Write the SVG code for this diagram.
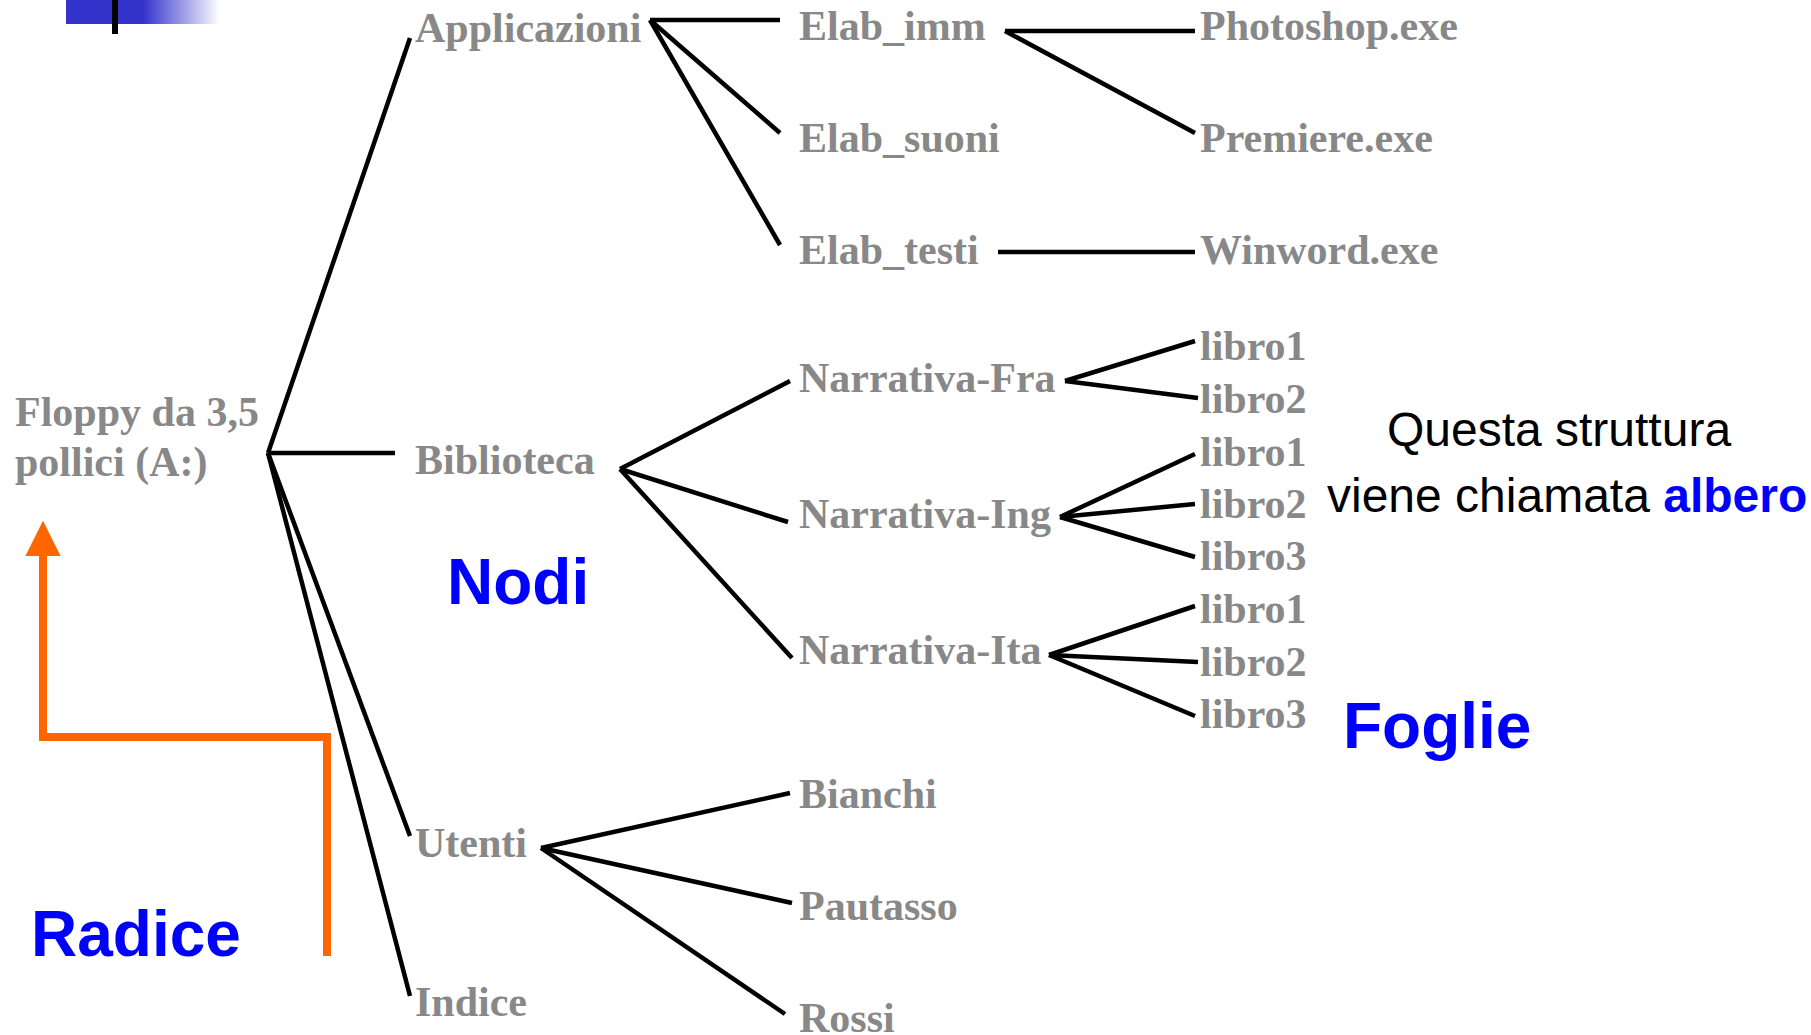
<svg xmlns="http://www.w3.org/2000/svg" width="1811" height="1035" viewBox="0 0 1811 1035">
<defs>
<linearGradient id="bar" x1="0" y1="0" x2="1" y2="0">
<stop offset="0" stop-color="#3333CC"/>
<stop offset="0.5" stop-color="#3333CC"/>
<stop offset="1" stop-color="#3333CC" stop-opacity="0"/>
</linearGradient>
<marker id="oarrow" viewBox="0 0 10 10" refX="0" refY="5" markerWidth="4.4" markerHeight="4.4" markerUnits="strokeWidth" orient="auto">
<path d="M0,0 L10,5 L0,10 z" fill="#FF6600"/>
</marker>
<style>
.n{font-family:"Liberation Serif","Times New Roman",serif;font-weight:bold;font-size:42px;fill:#888888}
.b{font-family:"Liberation Sans",Arial,sans-serif;font-weight:bold;font-size:64px;fill:#0000FF}
.q{font-family:"Liberation Sans",Arial,sans-serif;font-size:48px;fill:#000000}
.e{stroke:#000;stroke-width:4.5;fill:none}
</style>
</defs>
<rect width="1811" height="1035" fill="#FFFFFF"/>
<g id="decor">
<rect x="66" y="0" width="154" height="24" fill="url(#bar)"/>
<rect x="112" y="0" width="6" height="34" fill="#000"/>
</g>
<g id="connectors">
<line class="e" x1="268" y1="453" x2="410" y2="38"/>
<line class="e" x1="268" y1="453" x2="395" y2="453"/>
<line class="e" x1="268" y1="453" x2="410" y2="836"/>
<line class="e" x1="268" y1="453" x2="410" y2="996"/>
<line class="e" x1="650" y1="20" x2="780" y2="20"/>
<line class="e" x1="650" y1="20" x2="780" y2="133"/>
<line class="e" x1="650" y1="20" x2="780" y2="245"/>
<line class="e" x1="1005" y1="31" x2="1195" y2="31"/>
<line class="e" x1="1005" y1="31" x2="1195" y2="133"/>
<line class="e" x1="998" y1="252" x2="1195" y2="252"/>
<line class="e" x1="620" y1="469" x2="790" y2="381"/>
<line class="e" x1="620" y1="469" x2="788" y2="522"/>
<line class="e" x1="620" y1="469" x2="792" y2="658"/>
<line class="e" x1="1065" y1="381" x2="1195" y2="341"/>
<line class="e" x1="1065" y1="381" x2="1198" y2="398"/>
<line class="e" x1="1060" y1="517" x2="1195" y2="454"/>
<line class="e" x1="1060" y1="517" x2="1195" y2="504"/>
<line class="e" x1="1060" y1="517" x2="1195" y2="557"/>
<line class="e" x1="1049" y1="655" x2="1195" y2="606"/>
<line class="e" x1="1049" y1="655" x2="1198" y2="662"/>
<line class="e" x1="1049" y1="655" x2="1195" y2="716"/>
<line class="e" x1="541" y1="848" x2="790" y2="793"/>
<line class="e" x1="541" y1="848" x2="792" y2="903"/>
<line class="e" x1="541" y1="848" x2="785" y2="1014"/>
<path d="M327,956 V737 H43 V556" stroke="#FF6600" stroke-width="8" fill="none" marker-end="url(#oarrow)"/>
</g>
<g id="n-root"><text class="n" x="15" y="426">Floppy da 3,5</text><text class="n" x="15" y="476">pollici (A:)</text></g>
<g id="n-applicazioni"><text class="n" x="415" y="42">Applicazioni</text></g>
<g id="n-biblioteca"><text class="n" x="415" y="474">Biblioteca</text></g>
<g id="n-utenti"><text class="n" x="415" y="857">Utenti</text></g>
<g id="n-indice"><text class="n" x="415" y="1016">Indice</text></g>
<g id="n-elab-imm"><text class="n" x="799" y="40">Elab_imm</text></g>
<g id="n-elab-suoni"><text class="n" x="799" y="152">Elab_suoni</text></g>
<g id="n-elab-testi"><text class="n" x="799" y="264">Elab_testi</text></g>
<g id="n-photoshop"><text class="n" x="1200" y="40">Photoshop.exe</text></g>
<g id="n-premiere"><text class="n" x="1200" y="152">Premiere.exe</text></g>
<g id="n-winword"><text class="n" x="1200" y="264">Winword.exe</text></g>
<g id="n-narr-fra"><text class="n" x="799" y="392">Narrativa-Fra</text></g>
<g id="n-narr-ing"><text class="n" x="799" y="528">Narrativa-Ing</text></g>
<g id="n-narr-ita"><text class="n" x="799" y="664">Narrativa-Ita</text></g>
<g id="n-fra-libro1"><text class="n" x="1200" y="360">libro1</text></g>
<g id="n-fra-libro2"><text class="n" x="1200" y="413">libro2</text></g>
<g id="n-ing-libro1"><text class="n" x="1200" y="466">libro1</text></g>
<g id="n-ing-libro2"><text class="n" x="1200" y="518">libro2</text></g>
<g id="n-ing-libro3"><text class="n" x="1200" y="570">libro3</text></g>
<g id="n-ita-libro1"><text class="n" x="1200" y="623">libro1</text></g>
<g id="n-ita-libro2"><text class="n" x="1200" y="676">libro2</text></g>
<g id="n-ita-libro3"><text class="n" x="1200" y="728">libro3</text></g>
<g id="n-bianchi"><text class="n" x="799" y="808">Bianchi</text></g>
<g id="n-pautasso"><text class="n" x="799" y="920">Pautasso</text></g>
<g id="n-rossi"><text class="n" x="799" y="1032">Rossi</text></g>
<g id="labels">
<text class="b" x="447" y="604">Nodi</text>
<text class="b" x="31" y="956">Radice</text>
<text class="b" x="1343" y="748">Foglie</text>
<text class="q" x="1559" y="446" text-anchor="middle">Questa struttura</text>
<text class="q" x="1327" y="512">viene chiamata <tspan font-weight="bold" fill="#0000FF">albero</tspan></text>
</g>
</svg>
